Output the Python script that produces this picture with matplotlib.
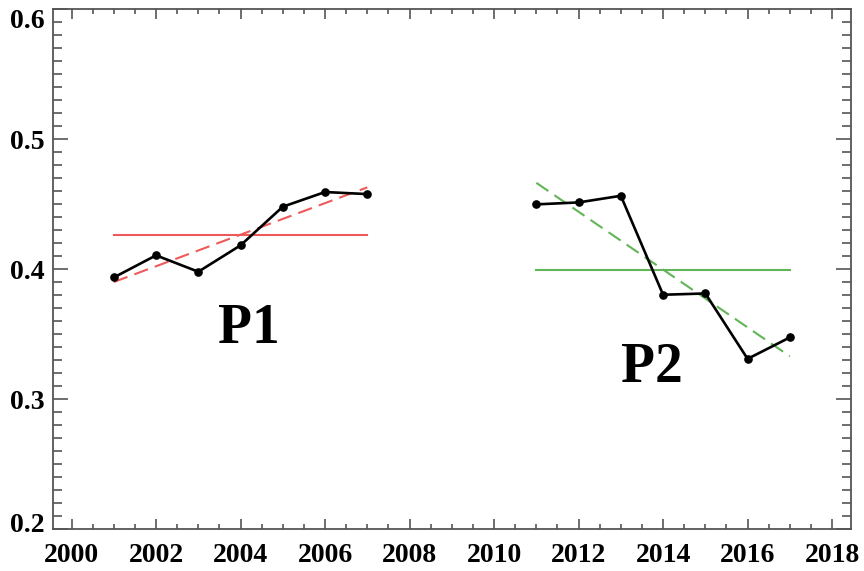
import numpy as np
import matplotlib
matplotlib.use('Agg')
import matplotlib.pyplot as plt
import matplotlib.transforms as mtransforms
from matplotlib.ticker import MultipleLocator

# yearly values for the two periods
years1 = [2001, 2002, 2003, 2004, 2005, 2006, 2007]
vals1 = [0.3938, 0.4108, 0.3982, 0.4185, 0.4482, 0.4595, 0.4579]
years2 = [2011, 2012, 2013, 2014, 2015, 2016, 2017]
vals2 = [0.4500, 0.4515, 0.4566, 0.3805, 0.3815, 0.3312, 0.3477]
labels = ['P1', 'P2']

plt.rcParams['font.family'] = 'Liberation Serif'
plt.rcParams['font.weight'] = 'bold'

fig = plt.figure(figsize=(8.64, 5.71), dpi=100)
ax = fig.add_axes([0.0613, 0.0727, 0.9233, 0.911])

red = '#ee5a5a'
green = '#62b556'

for yrs, v, col in [(years1, vals1, red), (years2, vals2, green)]:
    yrs = np.array(yrs, dtype=float)
    v = np.array(v)
    # period mean and linear trend
    ax.plot([yrs[0], yrs[-1]], [v.mean(), v.mean()], color=col, lw=1.5)
    k, b = np.polyfit(yrs, v, 1)
    ax.plot(yrs, k*yrs + b, color=col, lw=1.5, dashes=(7, 3.5))
    ax.plot(yrs, v, color='black', lw=1.9, marker='o', ms=5.2)

ax.text(2004.19, 0.354, labels[0], fontsize=40, fontweight='bold',
        ha='center', va='center')
ax.text(2013.74, 0.324, labels[1], fontsize=40, fontweight='bold',
        ha='center', va='center')

ax.set_xlim(1999.56, 2018.44)
ax.set_ylim(0.2, 0.6)
ax.xaxis.set_major_locator(MultipleLocator(2))
ax.xaxis.set_minor_locator(MultipleLocator(0.5))
ax.yaxis.set_major_locator(MultipleLocator(0.1))
ax.yaxis.set_minor_locator(MultipleLocator(0.01))
ax.yaxis.set_major_formatter(plt.FormatStrFormatter('%.1f'))

axcol = '#555555'
for s in ax.spines.values():
    s.set_color(axcol)
    s.set_linewidth(1.3)
ax.tick_params(which='both', direction='in', top=True, right=True,
               color=axcol, width=1.2, labelsize=20)
ax.tick_params(axis='x', which='major', length=7.2, pad=10)
ax.tick_params(axis='x', which='minor', length=3.6)
ax.tick_params(axis='y', which='major', length=10.8, pad=6)
ax.tick_params(axis='y', which='minor', length=6.3)

# pull the end labels on the y axis inward
fig.canvas.draw()
for lab in ax.get_yticklabels():
    t = lab.get_text()
    if t == '0.6':
        lab.set_transform(lab.get_transform() +
                          mtransforms.ScaledTranslation(0, -9/100, fig.dpi_scale_trans))
    elif t == '0.2':
        lab.set_transform(lab.get_transform() +
                          mtransforms.ScaledTranslation(0, 7/100, fig.dpi_scale_trans))

fig.savefig('out.png', dpi=100)
